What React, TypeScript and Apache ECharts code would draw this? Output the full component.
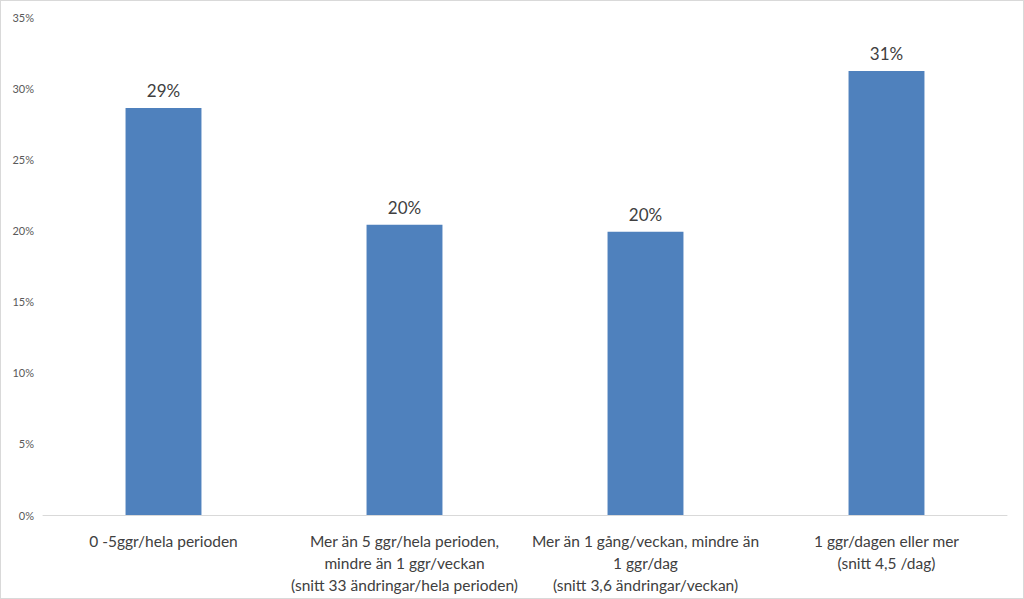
import React, { useEffect, useRef } from "react";
import * as echarts from "echarts";

const categories = [
  "0 -5ggr/hela perioden",
  "Mer än 5 ggr/hela perioden,\nmindre än 1 ggr/veckan\n(snitt 33 ändringar/hela perioden)",
  "Mer än 1 gång/veckan, mindre än\n1 ggr/dag\n(snitt 3,6 ändringar/veckan)",
  "1 ggr/dagen eller mer\n(snitt 4,5 /dag)",
];
const values = [28.6, 20.4, 19.9, 31.2];
const valueLabels = ["29%", "20%", "20%", "31%"];

export default function App() {
  const ref = useRef<HTMLDivElement>(null);
  useEffect(() => {
    document.body.style.margin = "0";
    const chart = echarts.init(ref.current!, null, { renderer: "svg" });
    chart.setOption({
      animation: false,
      backgroundColor: "#ffffff",
      grid: { left: 42, right: 16, top: 16, bottom: 83 },
      xAxis: {
        type: "category",
        data: categories,
        axisLine: { lineStyle: { color: "#d9d9d9", width: 1 } },
        axisTick: { show: false },
        axisLabel: {
          color: "#404040",
          fontFamily: "Lato",
          fontSize: 15.5,
          lineHeight: 22,
          margin: 15,
          interval: 0,
        },
      },
      yAxis: {
        type: "value",
        min: 0,
        max: 35,
        interval: 5,
        splitLine: { show: false },
        axisLine: { show: false },
        axisTick: { show: false },
        axisLabel: {
          color: "#595959",
          fontFamily: "Lato",
          fontSize: 11,
          margin: 9,
          formatter: "{value}%",
        },
      },
      series: [
        {
          type: "bar",
          data: values,
          barWidth: "31.5%",
          itemStyle: { color: "#4f81bd" },
          label: {
            show: true,
            position: "top",
            distance: 9,
            color: "#404040",
            fontFamily: "Lato",
            fontSize: 17,
            formatter: (p: any) => valueLabels[p.dataIndex],
          },
        },
      ],
    });
    return () => chart.dispose();
  }, []);
  return (
    <div
      style={{
        width: 1024,
        height: 599,
        boxSizing: "border-box",
        border: "1px solid #d9d9d9",
      }}
    >
      <div ref={ref} style={{ width: 1022, height: 597 }} />
    </div>
  );
}
